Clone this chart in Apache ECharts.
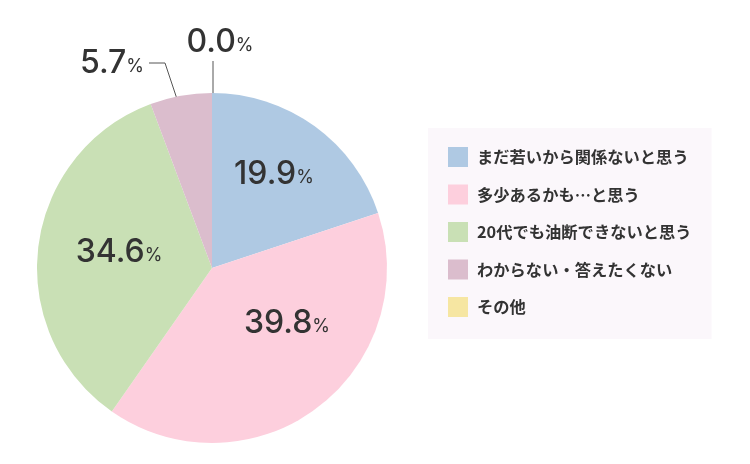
<!DOCTYPE html>
<html>
<head>
<meta charset="utf-8">
<script src="https://cdn.jsdelivr.net/npm/echarts@6/dist/echarts.min.js"></script>
<style>
  html, body { margin: 0; padding: 0; background: #ffffff; }
  #chart { width: 750px; height: 464px; }
</style>
</head>
<body>
<div id="chart"></div>
<script>
  const categories = [
    'まだ若いから関係ないと思う',
    '多少あるかも…と思う',
    '20代でも油断できないと思う',
    'わからない・答えたくない',
    'その他'
  ];
  const values = [19.9, 39.8, 34.6, 5.7, 0.0];
  const colors = ['#afc9e3', '#fdcfdd', '#c9e0b5', '#dbbdcd', '#f6e6a2'];

  // label centres and leader lines (pixel layout only)
  const labelPos = [[274, 174], [287, 323], [119, 252], [112, 63], [220, 42]];
  const leaderLines = {
    3: [[180, 108], [165, 63], [149, 63]],
    4: [[213, 106], [213, 84], [213, 61]]
  };

  const chart = echarts.init(document.getElementById('chart'));

  const option = {
    backgroundColor: '#ffffff',
    animation: false,
    color: colors,
    legend: {
      orient: 'vertical',
      left: 428,
      top: 128,
      backgroundColor: '#fbf7fb',
      padding: [19, 20, 22, 20],
      itemWidth: 20,
      itemHeight: 20,
      itemGap: 17.5,
      icon: 'rect',
      data: categories,
      textStyle: {
        fontFamily: '"Noto Sans CJK JP", sans-serif',
        fontSize: 16.3,
        fontWeight: 'bold',
        color: '#333333',
        padding: [0, 0, 0, 4]
      }
    },
    series: [
      {
        type: 'pie',
        center: [212, 268],
        radius: 175,
        startAngle: 90,
        clockwise: true,
        avoidLabelOverlap: false,
        itemStyle: { borderWidth: 0 },
        label: {
          show: true,
          formatter: (p) => '{n|' + p.value.toFixed(1) + '}{p|%}',
          rich: {
            n: {
              fontFamily: 'Inter, sans-serif',
              fontSize: 32,
              fontWeight: 500,
              color: '#333333'
            },
            p: {
              fontFamily: 'Inter, sans-serif',
              fontSize: 18,
              color: '#333333',
              padding: [7, 0, 0, 0]
            }
          }
        },
        labelLine: {
          show: true,
          lineStyle: { color: '#555555', width: 1 }
        },
        labelLayout: (params) => {
          const i = params.dataIndex;
          const out = {
            x: labelPos[i][0],
            y: labelPos[i][1],
            align: 'center',
            verticalAlign: 'middle',
            hideOverlap: false,
            moveOverlap: null
          };
          if (leaderLines[i]) out.labelLinePoints = leaderLines[i];
          return out;
        },
        data: categories.map((name, i) => ({
          name: name,
          value: values[i],
          labelLine: { show: !!leaderLines[i] }
        }))
      }
    ]
  };

  chart.setOption(option);
</script>
</body>
</html>
